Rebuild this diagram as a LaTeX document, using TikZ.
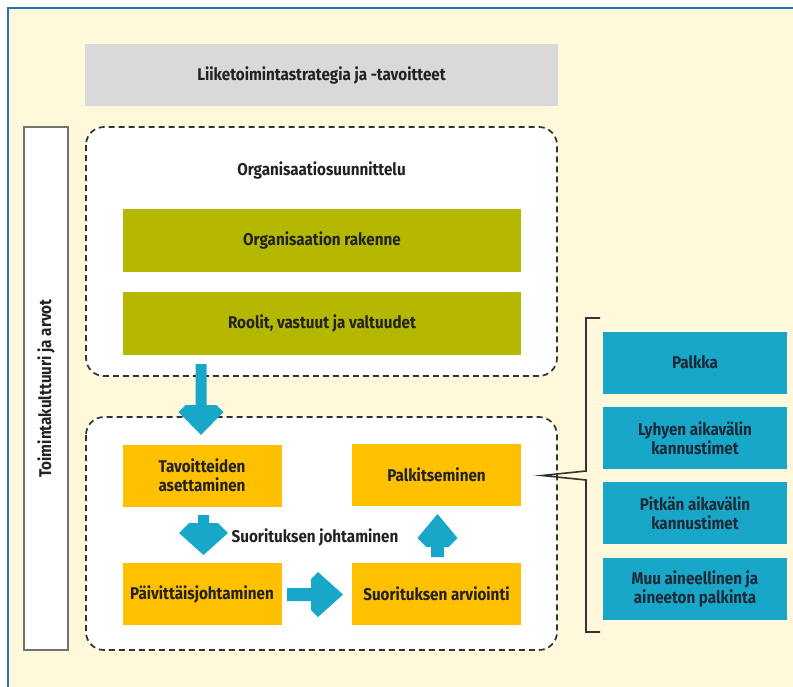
\documentclass[tikz,border=0pt]{standalone}
\usepackage{fontspec}
\setmainfont{Fira Sans}[FakeStretch=0.895]
\begin{document}
\definecolor{bgyellow}{HTML}{FFF8DB}
\definecolor{framecol}{HTML}{2A72B5}
\definecolor{greybox}{HTML}{D9D9D9}
\definecolor{olivebox}{HTML}{B5B800}
\definecolor{orangebox}{HTML}{FFC000}
\definecolor{cyanbox}{HTML}{18A7C9}
\definecolor{inktext}{HTML}{222222}
\definecolor{navytext}{HTML}{1C2A38}
\definecolor{dashcol}{HTML}{333333}
% filled block arrow: tail point, angle, shaft half-width, head start, head thickness, head half-width, length
\newcommand\blockarrow[7]{%
  \fill[cyanbox, shift={(#1)}, rotate=#2]
    (0,#3) -- (#4,#3) -- (#4,{#6-#5}) -- ({#4+#5},#6) -- (#7,0)
    -- ({#4+#5},-#6) -- (#4,{-(#6-#5)}) -- (#4,-#3) -- (0,-#3) -- cycle;}
\begin{tikzpicture}[x=1pt, y=-1pt,
  every node/.style={font=\fontsize{17}{19}\selectfont\bfseries, text=inktext, inner sep=0pt},
  panel/.style={rounded corners=18pt, draw=dashcol, line width=1.7pt, dash pattern=on 6pt off 4pt, fill=white},
  topbar/.style={fill=greybox, minimum width=473pt, minimum height=62pt},
  orgbox/.style={fill=olivebox, minimum width=398pt, minimum height=63pt},
  taskbox/.style={fill=orangebox, minimum height=62pt, align=center},
  rewardbox/.style={fill=cyanbox, minimum width=184pt, minimum height=62pt, align=center, text=navytext},
  culturebox/.style={draw=gray!90!black, line width=1.4pt, fill=white, minimum width=44pt, minimum height=523pt},
  bracket/.style={draw=dashcol, line width=1.6pt}]
\clip (0,0) rectangle (793,686);
\useasboundingbox (0,0) rectangle (793,686);
% page and frame
\fill[white] (0,0) rectangle (793,686);
\fill[bgyellow] (8,8) rectangle (800,700);
\draw[framecol, line width=2.6pt] (8,700) -- (8,8) -- (800,8);

% strategy bar
\node[topbar] (strategy) at (321.5,75) {Liiketoimintastrategia ja -tavoitteet};

% culture column
\node[culturebox] (culture) at (46,388.5) {};
\node[rotate=90] (culturelabel) at (culture.center) {Toimintakulttuuri ja arvot};

% organisation design panel
\draw[panel] (86,127) rectangle (557,376);
\node (orgtitle) at (321.5,170) {Organisaatiosuunnittelu};
\node[orgbox] (structure) at (322,240.5) {Organisaation rakenne};
\node[orgbox] (roles) at (322,323.5) {Roolit, vastuut ja valtuudet};

% performance management panel
\draw[panel] (86,417) rectangle (557,650);
\node[taskbox, minimum width=159pt] (goals) at (202,475.5) {Tavoitteiden\\asettaminen};
\node[taskbox, minimum width=169pt] (reward) at (436.5,475) {Palkitseminen};
\node[taskbox, minimum width=159pt] (daily) at (202,594) {Päivittäisjohtaminen};
\node[taskbox, minimum width=169pt] (review) at (436.5,594) {Suorituksen arviointi};
\node (perftitle) at (315,537) {Suorituksen johtaminen};

% flow arrows
\coordinate (a0) at (201,364);
\coordinate (a1) at (203.5,515);
\coordinate (a2) at (287,594.5);
\coordinate (a3) at (437.5,557);
\blockarrow{a0}{-90}{5.5}{41}{7}{22.5}{71}
\blockarrow{a1}{-90}{5.5}{8}{10}{24.5}{40}
\blockarrow{a2}{0}{6.5}{24}{7}{22.5}{56}
\blockarrow{a3}{90}{6.5}{10}{9}{20}{43}

% reward components
\node[rewardbox] (pay) at (695,362.5) {Palkka};
\node[rewardbox] (short) at (695,438) {Lyhyen aikavälin\\kannustimet};
\node[rewardbox] (long) at (695,513) {Pitkän aikavälin\\kannustimet};
\node[rewardbox] (other) at (695,588.5) {Muu aineellinen ja\\aineeton palkinta};

% bracket gathering the components
\coordinate (btop) at (600,318);
\coordinate (bbot) at (600,632);
\coordinate (btip) at (542,475.5);
\draw[bracket] (btop) -- (586,318) -- (586,471) -- (btip) -- (586,480) -- (586,632) -- (bbot);
\end{tikzpicture}
\end{document}
